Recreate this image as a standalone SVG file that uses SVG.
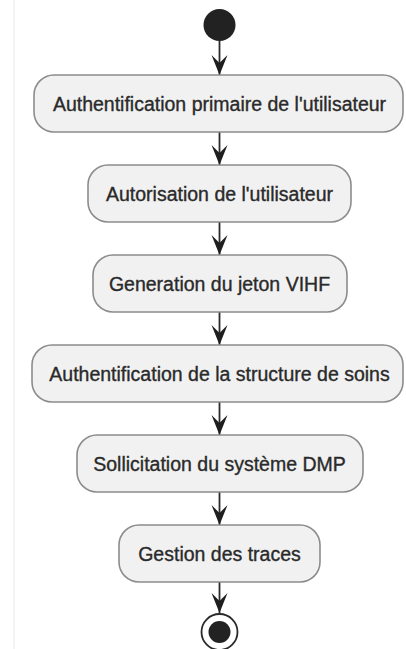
<svg xmlns="http://www.w3.org/2000/svg" width="406" height="649" viewBox="0 0 406 649">
<defs>
<style>
.box{fill:#f1f1f1;stroke:#8c8c8c;stroke-width:1.6}
.lbl{font-family:"Liberation Sans",Arial,sans-serif;font-size:19.5px;fill:#2a2a2a;stroke:#2a2a2a;stroke-width:0.35;text-anchor:middle}
.edge{stroke:#2a2a2a;stroke-width:1.8;fill:none}
</style>
<marker id="av" markerUnits="userSpaceOnUse" markerWidth="18" markerHeight="22" refX="9" refY="21" orient="0" viewBox="0 0 18 22">
<path d="M1,1 L9,21 L17,1 L9,9 Z" fill="#1e1e1e"/>
</marker>
</defs>
<rect width="406" height="649" fill="#ffffff"/>
<line x1="14" y1="0" x2="14" y2="649" stroke="#f0f0f0" stroke-width="1.5"/>
<g id="connectors">
<line class="edge" x1="219.5" y1="41" x2="219.5" y2="75" marker-end="url(#av)"/>
<line class="edge" x1="219.5" y1="132" x2="219.5" y2="165" marker-end="url(#av)"/>
<line class="edge" x1="219.5" y1="222" x2="219.5" y2="255" marker-end="url(#av)"/>
<line class="edge" x1="219.5" y1="312" x2="219.5" y2="345" marker-end="url(#av)"/>
<line class="edge" x1="219.5" y1="402" x2="219.5" y2="435" marker-end="url(#av)"/>
<line class="edge" x1="219.5" y1="492" x2="219.5" y2="525" marker-end="url(#av)"/>
<line class="edge" x1="219.5" y1="582" x2="219.5" y2="613" marker-end="url(#av)"/>
</g>
<g id="start"><circle cx="219.5" cy="25" r="16" fill="#222222"/></g>
<g id="n1"><rect class="box" x="34" y="75" width="369" height="57" rx="20"/><text class="lbl" x="219.5" y="110.5">Authentification primaire de l'utilisateur</text></g>
<g id="n2"><rect class="box" x="88" y="165" width="263" height="57" rx="20"/><text class="lbl" x="219.5" y="200.5">Autorisation de l'utilisateur</text></g>
<g id="n3"><rect class="box" x="93" y="255" width="254" height="57" rx="20"/><text class="lbl" x="219.5" y="290.5">Generation du jeton VIHF</text></g>
<g id="n4"><rect class="box" x="32" y="345" width="371" height="57" rx="20"/><text class="lbl" x="219.5" y="380.5">Authentification de la structure de soins</text></g>
<g id="n5"><rect class="box" x="77" y="435" width="286" height="57" rx="20"/><text class="lbl" x="219.5" y="470.5">Sollicitation du système DMP</text></g>
<g id="n6"><rect class="box" x="119" y="525" width="201" height="57" rx="20"/><text class="lbl" x="219.5" y="560.5">Gestion des traces</text></g>
<g id="end"><circle cx="219.5" cy="632" r="18" fill="#ffffff" stroke="#2a2a2a" stroke-width="1.8"/><circle cx="219.5" cy="632" r="11" fill="#222222"/></g>
</svg>
